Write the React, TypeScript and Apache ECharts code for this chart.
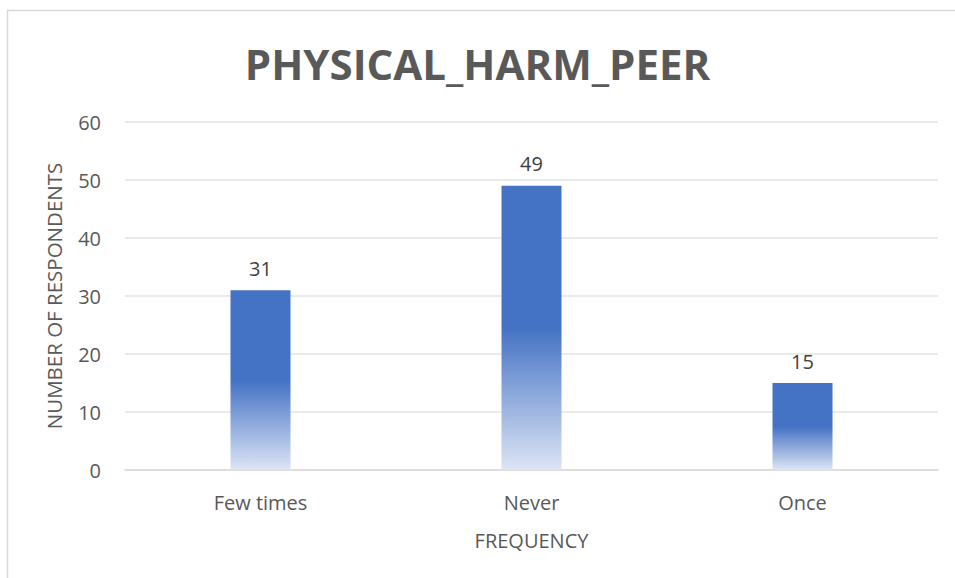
import React, { useEffect, useRef } from "react";
import * as echarts from "echarts";

const categories = ["Few times", "Never", "Once"];
const values = [31, 49, 15];
const yTicks = [0, 10, 20, 30, 40, 50, 60];

export default function App() {
  const ref = useRef<HTMLDivElement>(null);
  useEffect(() => {
    const chart = echarts.init(ref.current!, null, { renderer: "svg" });
    const font = "Open Sans";
    chart.setOption({
      animation: false,
      backgroundColor: "#ffffff",
      textStyle: { fontFamily: font },
      title: {
        text: "PHYSICAL_HARM_PEER",
        left: "center",
        top: 37,
        textStyle: { fontSize: 42, fontWeight: "bold", color: "#595959", fontFamily: font },
      },
      graphic: [
        {
          type: "rect",
          shape: { x: 7.5, y: 10.5, width: 1000, height: 700 },
          style: { fill: "none", stroke: "#d9d9d9", lineWidth: 1.5 },
          silent: true,
        },
      ],
      grid: { left: 125, right: 17, top: 122, bottom: 108, containLabel: false },
      xAxis: {
        type: "category",
        data: categories,
        name: "FREQUENCY",
        nameLocation: "middle",
        nameGap: 60,
        nameTextStyle: { fontSize: 20, color: "#595959", fontFamily: font },
        axisLine: { lineStyle: { color: "#d9d9d9", width: 1.5 } },
        axisTick: { show: false },
        axisLabel: { fontSize: 20, color: "#595959", margin: 22, fontFamily: font },
      },
      yAxis: {
        type: "value",
        min: yTicks[0],
        max: yTicks[yTicks.length - 1],
        interval: 10,
        name: "NUMBER OF RESPONDENTS",
        nameLocation: "middle",
        nameRotate: 90,
        nameGap: 61,
        nameTextStyle: { fontSize: 20.5, color: "#595959", fontFamily: font },
        axisLine: { show: false },
        axisTick: { show: false },
        axisLabel: { fontSize: 20, color: "#595959", margin: 24, fontFamily: font },
        splitLine: { lineStyle: { color: "#e3e3e3", width: 1.5 } },
      },
      series: [
        {
          type: "bar",
          data: values,
          barWidth: 60,
          itemStyle: {
            color: new echarts.graphic.LinearGradient(0, 0, 0, 1, [
              { offset: 0, color: "#4472C4" },
              { offset: 0.5, color: "#4472C4" },
              { offset: 1, color: "#dde5f5" },
            ]),
          },
          label: {
            show: true,
            position: "top",
            distance: 12,
            fontSize: 20,
            color: "#404040",
            fontFamily: font,
          },
        },
      ],
    });
    return () => chart.dispose();
  }, []);
  return (
    <div
      ref={ref}
      style={{ position: "fixed", left: 0, top: 0, width: 955, height: 578 }}
    />
  );
}
